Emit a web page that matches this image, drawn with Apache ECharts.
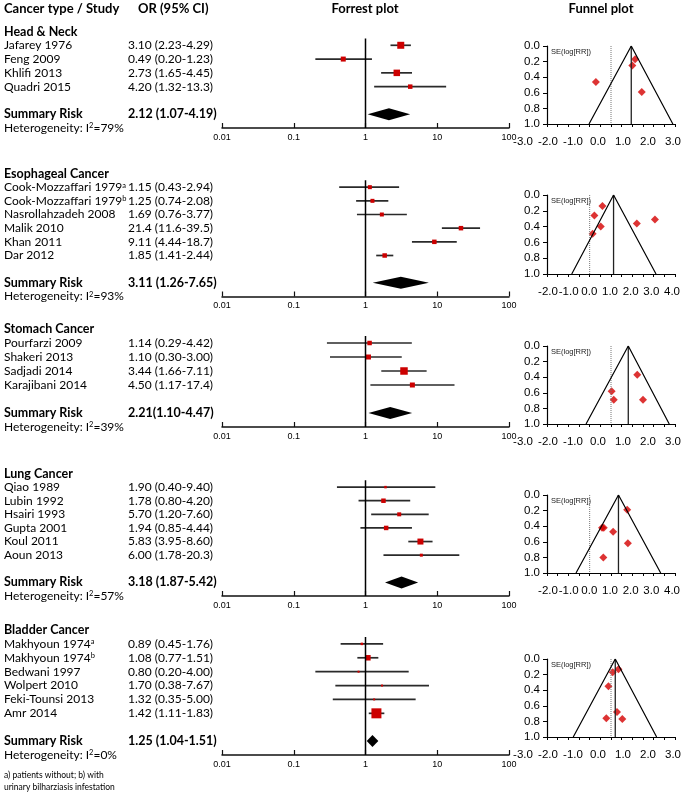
<!DOCTYPE html>
<html>
<head>
<meta charset="utf-8">
<script src="https://cdn.jsdelivr.net/npm/echarts@6/dist/echarts.min.js"></script>
<style>
html, body { margin: 0; padding: 0; background: #fff; }
#main { width: 685px; height: 796px; }
</style>
</head>
<body>
<div id="main"></div>
<script>
// ---- data ----
var sectionTitles = ['Head & Neck', 'Esophageal Cancer', 'Stomach Cancer', 'Lung Cancer', 'Bladder Cancer'];

var studyNames = [
    ['Jafarey 1976', 'Feng 2009', 'Khlifi 2013', 'Quadri 2015'],
    ['Cook-Mozzaffari 1979', 'Cook-Mozzaffari 1979', 'Nasrollahzadeh 2008', 'Malik 2010', 'Khan 2011', 'Dar 2012'],
    ['Pourfarzi 2009', 'Shakeri 2013', 'Sadjadi 2014', 'Karajibani 2014'],
    ['Qiao 1989', 'Lubin 1992', 'Hsairi 1993', 'Gupta 2001', 'Koul 2011', 'Aoun 2013'],
    ['Makhyoun 1974', 'Makhyoun 1974', 'Bedwani 1997', 'Wolpert 2010', 'Feki-Tounsi 2013', 'Amr 2014']
];
var studySup = [
    ['', '', '', ''],
    ['a', 'b', '', '', '', ''],
    ['', '', '', ''],
    ['', '', '', '', '', ''],
    ['a', 'b', '', '', '', '']
];
var orText = [
    ['3.10 (2.23-4.29)', '0.49 (0.20-1.23)', '2.73 (1.65-4.45)', '4.20 (1.32-13.3)'],
    ['1.15 (0.43-2.94)', '1.25 (0.74-2.08)', '1.69 (0.76-3.77)', '21.4 (11.6-39.5)', '9.11 (4.44-18.7)', '1.85 (1.41-2.44)'],
    ['1.14 (0.29-4.42)', '1.10 (0.30-3.00)', '3.44 (1.66-7.11)', '4.50 (1.17-17.4)'],
    ['1.90 (0.40-9.40)', '1.78 (0.80-4.20)', '5.70 (1.20-7.60)', '1.94 (0.85-4.44)', '5.83 (3.95-8.60)', '6.00 (1.78-20.3)'],
    ['0.89 (0.45-1.76)', '1.08 (0.77-1.51)', '0.80 (0.20-4.00)', '1.70 (0.38-7.67)', '1.32 (0.35-5.00)', '1.42 (1.11-1.83)']
];
var orEst = [
    [3.10, 0.49, 2.73, 4.20],
    [1.15, 1.25, 1.69, 21.4, 9.11, 1.85],
    [1.14, 1.10, 3.44, 4.50],
    [1.90, 1.78, 2.95, 1.94, 5.83, 6.00],
    [0.89, 1.08, 0.80, 1.70, 1.32, 1.42]
];
var orLow = [
    [2.23, 0.20, 1.65, 1.32],
    [0.43, 0.74, 0.76, 11.6, 4.44, 1.41],
    [0.29, 0.32, 1.66, 1.17],
    [0.40, 0.80, 1.20, 0.85, 3.95, 1.78],
    [0.45, 0.77, 0.20, 0.38, 0.35, 1.11]
];
var orHigh = [
    [4.29, 1.23, 4.45, 13.3],
    [2.94, 2.08, 3.77, 39.5, 18.7, 2.44],
    [4.42, 3.20, 7.11, 17.4],
    [9.40, 4.20, 7.60, 4.44, 8.60, 20.3],
    [1.76, 1.51, 4.00, 7.67, 5.00, 1.83]
];
// study weights (drawn as square side)
var studyWeight = [
    [7, 5, 6.5, 4.5],
    [4, 4, 4, 4.5, 4.5, 4.5],
    [4.5, 5, 7.5, 5],
    [2.5, 4.5, 4, 4.5, 6, 3],
    [2.5, 5.5, 2, 2, 2, 10]
];
var summaryText = ['2.12 (1.07-4.19)', '3.11 (1.26-7.65)', '2.21(1.10-4.47)', '3.18 (1.87-5.42)', '1.25 (1.04-1.51)'];
var summaryEst = [2.12, 3.11, 2.21, 3.18, 1.25];
var summaryLow = [1.07, 1.26, 1.10, 1.87, 1.04];
var summaryHigh = [4.19, 7.65, 4.47, 5.42, 1.51];
var heterogeneity = ['79%', '93%', '39%', '57%', '0%'];
var forestTickLabels = ['0.01', '0.1', '1', '10', '100'];

// funnel plots: log(RR) on x, SE(log[RR]) on y
var funnelX = [
    [1.13, -0.71, 1.00, 1.44],
    [0.14, 0.22, 0.52, 3.06, 2.21, 0.60],
    [0.13, 0.03, 1.23, 1.50],
    [0.64, 0.58, 1.10, 0.66, 1.76, 1.79],
    [-0.12, 0.08, -0.22, 0.53, 0.28, 0.35]
];
var funnelY = [
    [0.17, 0.46, 0.25, 0.59],
    [0.49, 0.26, 0.40, 0.31, 0.36, 0.14],
    [0.69, 0.58, 0.37, 0.69],
    [0.80, 0.42, 0.47, 0.42, 0.19, 0.62],
    [0.35, 0.17, 0.76, 0.77, 0.68, 0.13]
];
var funnelApex = [0.95, 1.12, 0.81, 1.35, 0.20];
var funnelBaseLeft = [-1.03, -0.84, -1.17, -0.64, -1.77];
var funnelBaseRight = [2.90, 3.11, 2.73, 3.33, 2.14];
var funnelRange = [[-3, 3], [-2, 4], [-3, 3], [-2, 4], [-3, 3]];
var funnelXLabels = [
    ['-3.0', '-2.0', '-1.0', '0.0', '1.0', '2.0', '3.0'],
    ['-2.0', '-1.0', '0.0', '1.0', '2.0', '3.0', '4.0'],
    ['-3.0', '-2.0', '-1.0', '0.0', '1.0', '2.0', '3.0'],
    ['-2.0', '-1.0', '0.0', '1.0', '2.0', '3.0', '4.0'],
    ['-3.0', '-2.0', '-1.0', '0.0', '1.0', '2.0', '3.0']
];
var funnelYLabels = ['0.0', '0.2', '0.4', '0.6', '0.8', '1.0'];

// ---- layout ----
var forestTop = [31.5, 173.5, 329, 473.5, 630];
var forestHeight = [96.5, 123, 98, 122.5, 125];
var funnelTop = [46, 195, 346, 495, 659];
var funnelHeight = [78, 79, 78, 78, 78];
var funnelLabelLeft = [523, 548, 523, 548, 523];
var funnelLabelWidth = [150, 124, 150, 124, 150];

var TEXT_FONT = 'Lato, "Open Sans", sans-serif';
var NUM_FONT = '"Liberation Sans", Arial, sans-serif';
var RED = '#cc0000';

var myChart = echarts.init(document.getElementById('main'));

var grid = [], xAxis = [], yAxis = [], series = [], graphic = [];

function renderStudy(params, api) {
    var y = api.value(1);
    var a = api.coord([api.value(2), y]);
    var b = api.coord([api.value(3), y]);
    var c = api.coord([api.value(0), y]);
    var s = api.value(4);
    return {
        type: 'group',
        children: [
            {type: 'line', shape: {x1: a[0], y1: a[1], x2: b[0], y2: b[1]}, style: {stroke: '#2a2a2a', lineWidth: 1.7}},
            {type: 'rect', shape: {x: c[0] - s / 2, y: c[1] - s / 2, width: s, height: s}, style: {fill: RED}}
        ]
    };
}

function renderSummary(params, api) {
    var y = api.value(1);
    var a = api.coord([api.value(2), y]);
    var b = api.coord([api.value(3), y]);
    var c = api.coord([api.value(0), y]);
    return {
        type: 'polygon',
        shape: {points: [[a[0], a[1]], [c[0], c[1] - 6], [b[0], b[1]], [c[0], c[1] + 6]]},
        style: {fill: '#000'}
    };
}

for (var i = 0; i < 5; i++) {
    (function (i) {
        var n = studyNames[i].length;
        var N = n + 3;
        var nameRows = ['{b|' + sectionTitles[i] + '}'];
        var orRows = [''];
        for (var k = 0; k < n; k++) {
            nameRows.push(studyNames[i][k] + (studySup[i][k] ? '{s|' + studySup[i][k] + '}' : ''));
            orRows.push(orText[i][k]);
        }
        nameRows.push('', '{b|Summary Risk}', 'Heterogeneity: I{s|2}=' + heterogeneity[i]);
        orRows.push('', '{b|' + summaryText[i] + '}', '');

        var rich = {
            b: {fontWeight: 'bold', fontSize: 12.5, fontFamily: TEXT_FONT, color: '#000'},
            s: {fontSize: 7.5, fontFamily: TEXT_FONT, color: '#000', verticalAlign: 'top'}
        };

        // forest plot
        var g = grid.length;
        grid.push({left: 222, width: 287, top: forestTop[i], height: forestHeight[i]});
        var xi = xAxis.length;
        xAxis.push({
            type: 'log', logBase: 10, min: 0.01, max: 100, gridIndex: g, position: 'bottom',
            axisLine: {onZero: false, lineStyle: {color: '#111', width: 1.5}},
            axisTick: {inside: true, length: 5, lineStyle: {color: '#111', width: 1.2}},
            axisLabel: {fontSize: 9, fontFamily: NUM_FONT, color: '#000', margin: 5,
                formatter: function (v, idx) { return forestTickLabels[idx]; }},
            splitLine: {show: false}
        });
        var yi = yAxis.length;
        yAxis.push({
            type: 'value', gridIndex: g, inverse: true, min: 0, max: N, interval: 1, position: 'left',
            axisLine: {show: false, onZero: false}, axisTick: {show: false}, splitLine: {show: false},
            axisLabel: {align: 'left', margin: 218, fontSize: 12, fontFamily: TEXT_FONT, color: '#000', rich: rich,
                formatter: function (v) { return nameRows[Math.round(v)] || ''; }}
        });
        yAxis.push({
            type: 'value', gridIndex: g, inverse: true, min: 0, max: N, interval: 1, position: 'left',
            axisLine: {show: false, onZero: false}, axisTick: {show: false}, splitLine: {show: false},
            axisLabel: {align: 'left', margin: 94, fontSize: 12, fontFamily: TEXT_FONT, color: '#000', rich: rich,
                formatter: function (v) { return orRows[Math.round(v)] || ''; }}
        });

        series.push({
            type: 'line', xAxisIndex: xi, yAxisIndex: yi, silent: true, symbol: 'none',
            data: [[1, 0.5], [1, N]],
            lineStyle: {color: '#000', width: 1.5}
        });
        var studyData = [];
        for (var k = 0; k < n; k++) {
            studyData.push([orEst[i][k], k + 1, orLow[i][k], orHigh[i][k], studyWeight[i][k]]);
        }
        series.push({
            type: 'custom', xAxisIndex: xi, yAxisIndex: yi, silent: true,
            renderItem: renderStudy, encode: {x: [0, 2, 3], y: 1},
            data: studyData
        });
        series.push({
            type: 'custom', xAxisIndex: xi, yAxisIndex: yi, silent: true,
            renderItem: renderSummary, encode: {x: [0, 2, 3], y: 1},
            data: [[summaryEst[i], n + 2, summaryLow[i], summaryHigh[i]]]
        });

        // funnel plot
        var fg = grid.length;
        grid.push({left: 547, width: 128, top: funnelTop[i], height: funnelHeight[i]});
        var fxi = xAxis.length;
        xAxis.push({
            type: 'value', gridIndex: fg, min: funnelRange[i][0], max: funnelRange[i][1], interval: 0.5,
            position: 'bottom',
            axisLine: {onZero: false, lineStyle: {color: '#000', width: 1.2}},
            axisTick: {length: 3, lineStyle: {color: '#000', width: 1}},
            axisLabel: {show: false}, splitLine: {show: false}
        });
        var fyi = yAxis.length;
        yAxis.push({
            type: 'value', gridIndex: fg, inverse: true, min: 0, max: 1, interval: 0.2,
            axisLine: {show: true, onZero: false, lineStyle: {color: '#000', width: 1.2}},
            axisTick: {show: true, length: 4, lineStyle: {color: '#000', width: 1}},
            axisLabel: {fontSize: 11.5, fontFamily: NUM_FONT, color: '#000', margin: 7,
                formatter: function (v, idx) { return funnelYLabels[idx]; }},
            splitLine: {show: false}
        });
        series.push({
            type: 'line', xAxisIndex: fxi, yAxisIndex: fyi, silent: true, symbol: 'none',
            data: [[0, 0], [0, 1]],
            lineStyle: {color: '#777', width: 1, type: 'dotted'}
        });
        series.push({
            type: 'line', xAxisIndex: fxi, yAxisIndex: fyi, silent: true, symbol: 'none',
            data: [[funnelApex[i], 0], [funnelApex[i], 1]],
            lineStyle: {color: '#222', width: 1.3}
        });
        series.push({
            type: 'line', xAxisIndex: fxi, yAxisIndex: fyi, silent: true, symbol: 'none',
            data: [[funnelBaseLeft[i], 1], [funnelApex[i], 0], [funnelBaseRight[i], 1]],
            lineStyle: {color: '#000', width: 1.2}
        });
        var pts = [];
        for (var k = 0; k < funnelX[i].length; k++) pts.push([funnelX[i][k], funnelY[i][k]]);
        series.push({
            type: 'scatter', xAxisIndex: fxi, yAxisIndex: fyi, silent: true,
            symbol: 'diamond', symbolSize: 8,
            itemStyle: {color: '#d40000'},
            data: pts
        });

        // tick labels of the funnel x axis, printed on their own scale as in the figure
        var lg = grid.length;
        grid.push({left: funnelLabelLeft[i], width: funnelLabelWidth[i], top: funnelTop[i], height: funnelHeight[i]});
        xAxis.push({
            type: 'value', gridIndex: lg, min: funnelRange[i][0], max: funnelRange[i][1], interval: 1,
            position: 'bottom',
            axisLine: {show: false, onZero: false}, axisTick: {show: false}, splitLine: {show: false},
            axisLabel: {fontSize: 11.5, fontFamily: NUM_FONT, color: '#000', margin: 12,
                formatter: function (v, idx) { return funnelXLabels[i][idx]; }}
        });
        yAxis.push({type: 'value', gridIndex: lg, show: false, min: 0, max: 1});

        graphic.push({
            type: 'text', left: 551, top: funnelTop[i] + 2, silent: true,
            style: {text: 'SE(log[RR])', fontSize: 7.5, fontFamily: NUM_FONT, fill: '#222'}
        });
    })(i);
}

var headStyle = {fontSize: 13, fontWeight: 'bold', fontFamily: TEXT_FONT, color: '#000'};

var option = {
    animation: false,
    backgroundColor: '#fff',
    title: [
        {text: 'Cancer type / Study', left: 4, top: 2, padding: 0, textStyle: headStyle},
        {text: 'OR (95% CI)', left: 138, top: 2, padding: 0, textStyle: headStyle},
        {text: 'Forrest plot', left: 365, top: 2, padding: 0, textAlign: 'center', textStyle: headStyle},
        {text: 'Funnel plot', left: 601, top: 2, padding: 0, textAlign: 'center', textStyle: headStyle},
        {text: 'a) patients without; b) with\nurinary bilharziasis infestation', left: 4, top: 770, padding: 0,
            textStyle: {fontSize: 8.5, lineHeight: 11.4, fontWeight: 'normal', fontFamily: TEXT_FONT, color: '#000'}}
    ],
    grid: grid,
    xAxis: xAxis,
    yAxis: yAxis,
    series: series,
    graphic: graphic
};

myChart.setOption(option);
</script>
</body>
</html>
